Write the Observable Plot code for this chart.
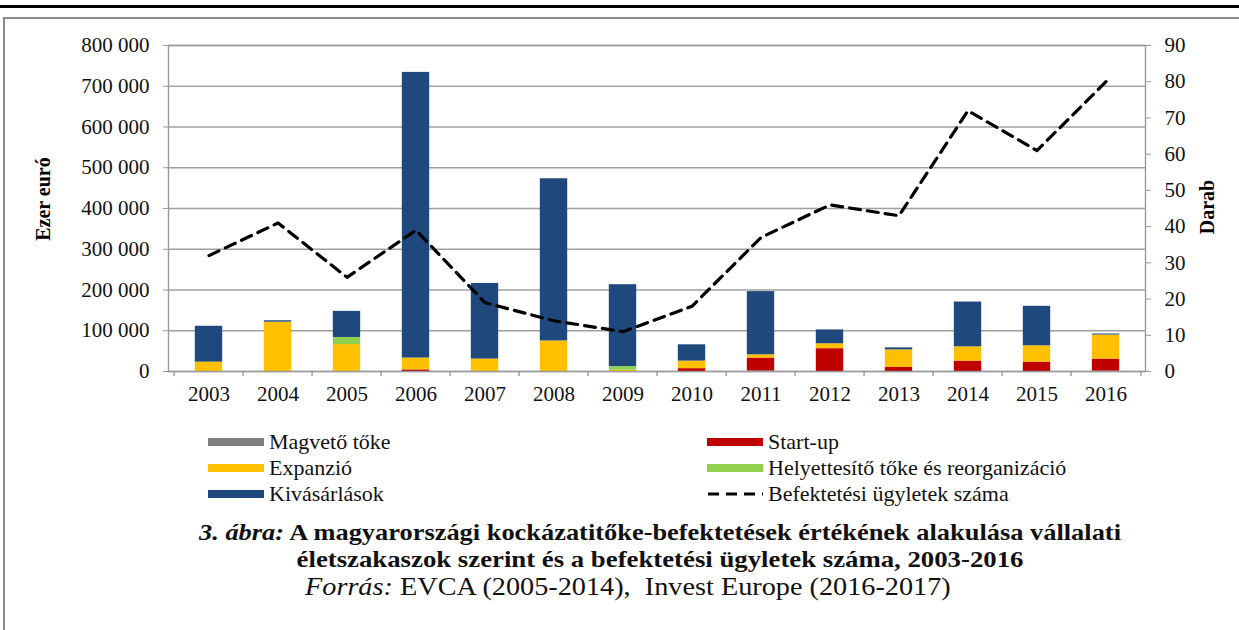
<!DOCTYPE html>
<html><head><meta charset="utf-8">
<script src="https://cdn.jsdelivr.net/npm/d3@7"></script>
<script src="https://cdn.jsdelivr.net/npm/@observablehq/plot@0.6"></script>
<style>
body{margin:0;background:#fff;font-family:"Liberation Serif",serif;}
#wrap{position:relative;width:1239px;height:630px;overflow:hidden;}
.abs{position:absolute;}
.leg{position:absolute;font-size:22px;color:#111;display:flex;align-items:center;white-space:nowrap;}
.sw{width:56px;height:8px;margin-right:5px;}
.tl{position:absolute;left:0;width:1320px;text-align:center;font-size:24px;color:#111;white-space:nowrap;transform:scaleX(1.1);transform-origin:660px 0;line-height:27px;}
.src{position:absolute;left:305px;font-size:25px;color:#111;white-space:nowrap;transform:scaleX(1.13);transform-origin:0 0;line-height:27px;}
</style></head>
<body><div id="wrap">
<div class="abs" style="left:0;top:5px;width:1239px;height:3px;background:#000"></div>
<div class="abs" style="left:3px;top:17px;width:1236px;height:2px;background:#8a8a8a"></div>
<div class="abs" style="left:3px;top:17px;width:2px;height:613px;background:#8a8a8a"></div>
<div id="chart" class="abs" style="left:0;top:0"></div>
<div class="abs" style="left:43px;top:199px;transform:translate(-50%,-50%) rotate(-90deg);font-weight:bold;font-size:20px;white-space:nowrap">Ezer euró</div>
<div class="abs" style="left:1207px;top:207px;transform:translate(-50%,-50%) rotate(-90deg);font-weight:bold;font-size:20px;white-space:nowrap">Darab</div>
<div id="legend"></div>
<div class="tl" style="top:519px;font-weight:bold"><i>3. ábra:</i> A magyarországi kockázatitőke-befektetések értékének alakulása vállalati</div>
<div class="tl" style="top:546px;font-weight:bold;transform:scaleX(1.115)">életszakaszok szerint és a befektetési ügyletek száma, 2003-2016</div>
<div class="src" style="top:573px"><i>Forrás:</i> EVCA (2005-2014),&nbsp; Invest Europe (2016-2017)</div>
</div>
<script>
const years = ["2003","2004","2005","2006","2007","2008","2009","2010","2011","2012","2013","2014","2015","2016"];
const seriesNames = ["Magvető tőke","Start-up","Expanzió","Helyettesítő tőke és reorganizáció","Kivásárlások"];
const seriesColors = ["#808080","#C00000","#FFC000","#92D050","#1F497D"];
// values in thousand euros
const magveto      = [0,0,0,0,0,0,0,0,1500,0,0,0,0,1000];
const startup      = [0,0,0,4000,0,0,0,7000,31500,56000,10000,25500,23000,29500];
const expanzio     = [23000,121000,66000,29000,30500,75000,3000,18500,8000,12000,43000,35000,40000,59000];
const helyettesito = [0,0,17500,0,0,0,9000,0,0,0,0,0,0,0];
const kivasarlas   = [88000,3500,64000,701000,185500,398000,201000,40000,155000,34000,5000,110000,97000,2500];
const deals        = [32,41,26,39,19,14,11,18,37,46,43,72,61,80];
const lineName = "Befektetési ügyletek száma";
const leftTicks = [0,100000,200000,300000,400000,500000,600000,700000,800000];
const rightTicks = [0,10,20,30,40,50,60,70,80,90];

const yMax = 800000, rMax = 90, k = yMax / rMax;
const seriesValues = [magveto, startup, expanzio, helyettesito, kivasarlas];
const bars = [];
years.forEach((yr, i) => seriesNames.forEach((s, j) => bars.push({year: yr, series: s, value: seriesValues[j][i]})));
const lineData = years.map((yr, i) => ({year: yr, v: deals[i] * k}));

const W = 1239, H = 410, mL = 168, mR = 94, mT = 45, mB = 39;
const bw = (W - mL - mR) / years.length;
const fmt = v => d3.format(",")(v).replace(/,/g, " ");

const plot = Plot.plot({
  width: W, height: H, marginLeft: mL, marginRight: mR, marginTop: mT, marginBottom: mB,
  style: {fontFamily: "Liberation Serif", fontSize: "21px", color: "#111", background: "transparent"},
  x: {domain: years, padding: 0, label: null},
  y: {domain: [0, yMax], label: null},
  color: {domain: seriesNames, range: seriesColors},
  marks: [
    Plot.gridY(leftTicks, {stroke: "#A0A0A0", strokeOpacity: 1, strokeWidth: 1.4}),
    Plot.barY(bars, {x: "year", y: "value", fill: "series", insetLeft: 20.8, insetRight: 20.8}),
    Plot.frame({stroke: "#999", strokeWidth: 1.4}),
    Plot.ruleX(years, {x: d => d, y1: 0, y2: -12300, dx: -bw / 2, stroke: "#999", strokeWidth: 1.4}),
    Plot.ruleX([years[years.length - 1]], {x: d => d, y1: 0, y2: -12300, dx: bw / 2, stroke: "#999", strokeWidth: 1.4}),
    Plot.line(lineData, {x: "year", y: "v", stroke: "#000", strokeWidth: 3.2, strokeDasharray: "11,7"}),
    Plot.axisY(leftTicks, {anchor: "left", tickSize: 5, tickPadding: 14, tickFormat: fmt, stroke: "#999", label: null}),
    Plot.axisY(rightTicks.map(t => t * k), {anchor: "right", tickSize: 5, tickPadding: 14, tickFormat: v => String(Math.round(v / k)), stroke: "#999", label: null}),
    Plot.axisX({tickSize: 0, tickPadding: 15, label: null})
  ]
});
document.getElementById("chart").appendChild(plot);

// legend
const leg = document.getElementById("legend");
const legItems = [
  {name: seriesNames[0], color: seriesColors[0], x: 208, y: 442},
  {name: seriesNames[1], color: seriesColors[1], x: 707, y: 442},
  {name: seriesNames[2], color: seriesColors[2], x: 208, y: 468},
  {name: seriesNames[3], color: seriesColors[3], x: 707, y: 468},
  {name: seriesNames[4], color: seriesColors[4], x: 208, y: 494},
  {name: lineName, color: null, x: 707, y: 494}
];
legItems.forEach(it => {
  const d = document.createElement("div");
  d.className = "leg";
  d.style.left = it.x + "px"; d.style.top = (it.y - 13) + "px"; d.style.height = "26px";
  if (it.color) {
    d.innerHTML = `<div class="sw" style="background:${it.color}"></div><span>${it.name}</span>`;
  } else {
    d.innerHTML = `<svg width="56" height="8" style="margin-right:5px"><line x1="1" y1="4" x2="56" y2="4" stroke="#000" stroke-width="3.2" stroke-dasharray="11,7"/></svg><span>${it.name}</span>`;
  }
  leg.appendChild(d);
});
</script>
</body></html>
